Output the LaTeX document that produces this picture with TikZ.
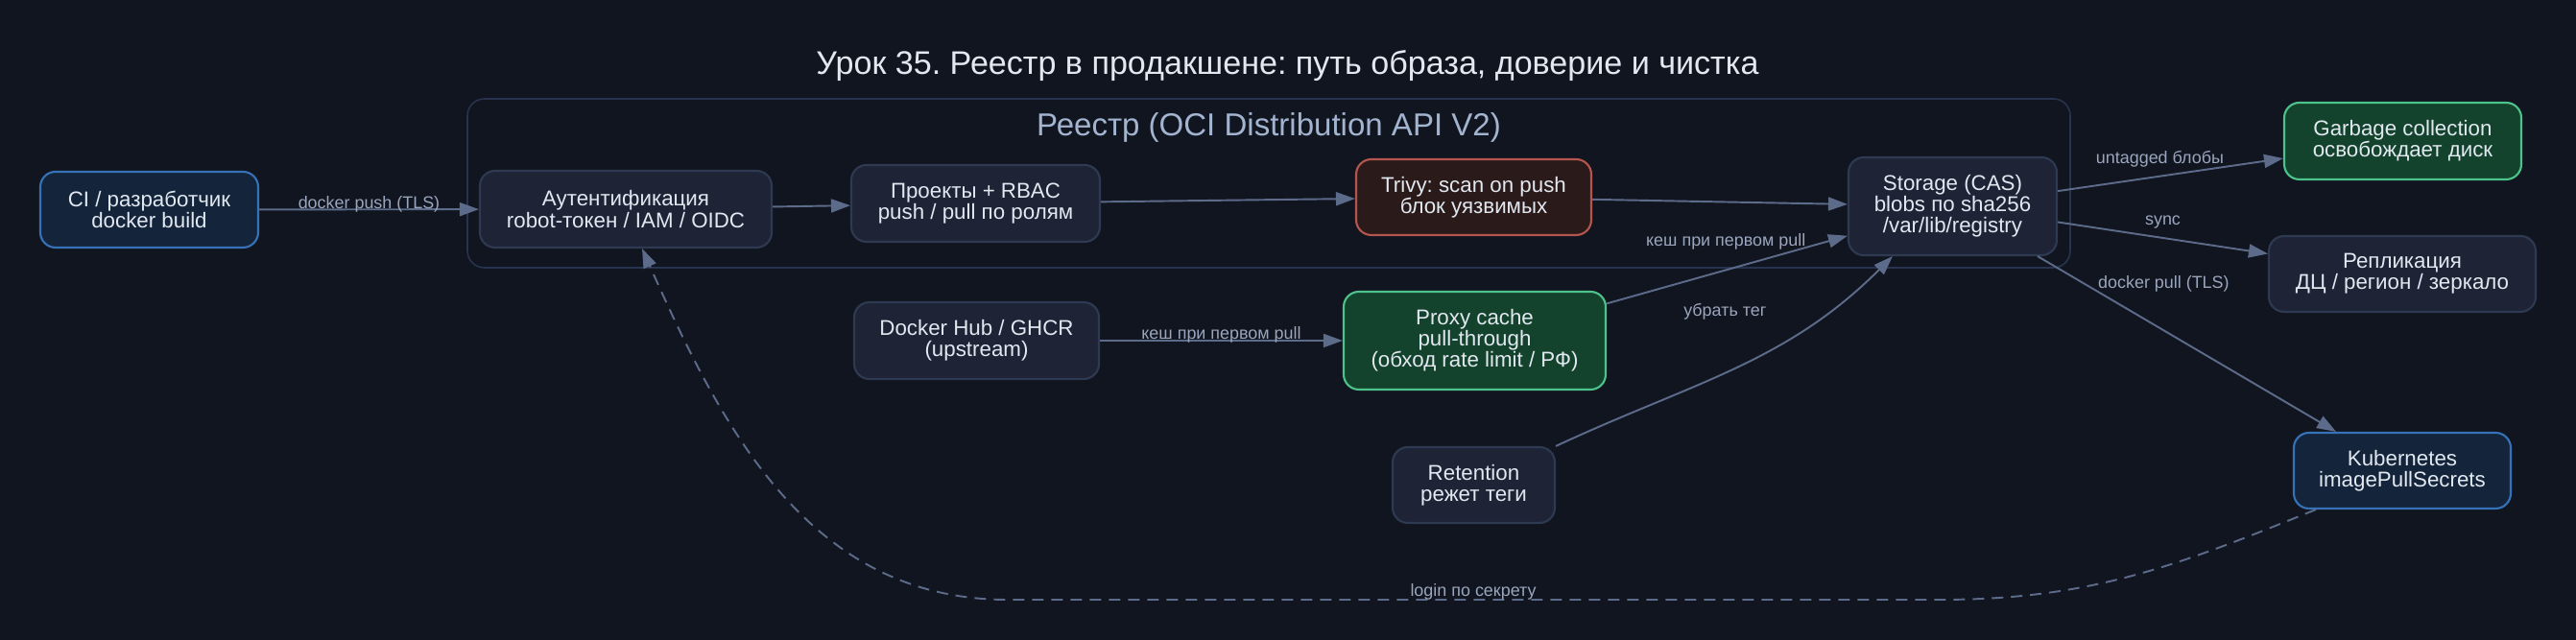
\documentclass[tikz,border=0pt]{standalone}
\usepackage{fontspec}
\setmainfont{Liberation Sans}
\frenchspacing
\usetikzlibrary{arrows.meta, positioning, calc}
\definecolor{cbg}{HTML}{11151F}
\definecolor{cgrey}{HTML}{2E3A52}
\definecolor{cgreyfill}{HTML}{1E2436}
\definecolor{cblue}{HTML}{3572B8}
\definecolor{cbluefill}{HTML}{14253B}
\definecolor{cgreen}{HTML}{4CC38A}
\definecolor{cgreenfill}{HTML}{14432D}
\definecolor{cred}{HTML}{B4564F}
\definecolor{credfill}{HTML}{2B1A1A}
\definecolor{cedge}{HTML}{5C6B8A}
\definecolor{clabel}{HTML}{9AA6BD}
\definecolor{ctext}{HTML}{E2E8F0}
\definecolor{ccluster}{HTML}{283350}
\definecolor{cclusterlabel}{HTML}{A3B4D0}
\tikzset{
  every picture/.style={line width=0.6pt},
  box/.style={draw=#1, fill=#1fill, rounded corners=4.5pt, align=center, text=ctext, font=\fontsize{6.35}{6.3}\selectfont, inner sep=0pt, minimum height=0.79cm},
  box/.default=cgrey,
  arrow/.style={-{Triangle[length=0.2cm, width=0.14cm]}, draw=cedge, line width=0.55pt},
  dasharrow/.style={arrow, dash pattern=on 0.12cm off 0.08cm},
  elabel/.style={font=\fontsize{5.1}{5.1}\selectfont, text=clabel, inner sep=0pt},
  title/.style={font=\fontsize{9.7}{11}\selectfont, text=ctext},
  group/.style={draw=ccluster, line width=0.45pt, rounded corners=5pt},
  grouplabel/.style={font=\fontsize{9.4}{11}\selectfont, text=cclusterlabel},
}

\begin{document}
\begin{tikzpicture}
  \useasboundingbox (0,0) rectangle (26.84,6.67);
  \fill[cbg] (0,0) rectangle (26.84,6.67);
  \node[title, anchor=base] at (13.415,5.89) {Урок 35. Реестр в продакшене: путь образа, доверие и чистка};
  % registry cluster
  \node[group, minimum width=16.70cm, minimum height=1.76cm] (reg) at (13.22,4.76) {};
  \node[grouplabel, anchor=base] at (13.22,5.25) {Реестр (OCI Distribution API V2)};
  % push path
  \node[box=cblue, minimum width=2.27cm] (ci) at (1.555,4.485) {CI / разработчик\\ docker build};
  \node[box, minimum width=3.04cm, minimum height=0.80cm] (auth) at (6.52,4.49) {Аутентификация\\ robot-токен / IAM / OIDC};
  \node[box, minimum width=2.59cm, minimum height=0.80cm] (proj) at (10.165,4.55) {Проекты + RBAC\\ push / pull по ролям};
  \node[box=cred, minimum width=2.45cm] (trivy) at (15.355,4.615) {Trivy: scan on push\\ блок уязвимых};
  \node[box, minimum width=2.17cm, minimum height=1.02cm] (sto) at (20.345,4.52) {Storage (CAS)\\ blobs по sha256\\ /var/lib/registry};
  \draw[arrow] (ci) -- node[elabel, anchor=base, yshift=0.01cm] {docker push (TLS)} (auth);
  \draw[arrow] (auth) -- (proj);
  \draw[arrow] (proj) -- (trivy);
  \draw[arrow] (trivy) -- (sto);
  % proxy cache and retention
  \node[box, minimum width=2.55cm, minimum height=0.80cm] (hub) at (10.175,3.12) {Docker Hub / GHCR\\ (upstream)};
  \node[box=cgreen, minimum width=2.73cm, minimum height=1.02cm] (proxy) at (15.365,3.12) {Proxy cache\\ pull-through\\ (обход rate limit / РФ)};
  \node[box, minimum width=1.69cm] (ret) at (15.355,1.615) {Retention\\ режет теги};
  \draw[arrow] (hub) -- node[elabel, anchor=base, yshift=0.01cm] {кеш при первом pull} (proxy);
  \draw[arrow] (proxy) -- node[elabel, pos=0.83, anchor=base east, yshift=0.01cm] {кеш при первом pull} (sto);
  \draw[arrow] (ret.north east) to[out=25, in=-135] node[elabel, pos=0.5, anchor=base east, xshift=0.33cm, yshift=0.53cm] {убрать тег} ([xshift=0.47cm]sto.south west);
  % consumers of storage
  \node[box=cgreen, minimum width=2.47cm, minimum height=0.80cm] (gc) at (25.035,5.20) {Garbage collection\\ освобождает диск};
  \node[box, minimum width=2.78cm] (repl) at (25.03,3.815) {Репликация\\ ДЦ / регион / зеркало};
  \node[box=cblue, minimum width=2.26cm] (k8s) at (25.03,1.765) {Kubernetes\\ imagePullSecrets};
  \draw[arrow] (sto) -- node[elabel, pos=0.74, anchor=base east, yshift=0.03cm] {untagged блобы} (gc);
  \draw[arrow] (sto) -- node[elabel, anchor=base, yshift=0.13cm] {sync} (repl);
  \draw[arrow] (sto) -- node[elabel, pos=0.2, anchor=base west, yshift=0.035cm] {docker pull (TLS)} (k8s);
  % login back to auth
  \coordinate (lowR) at (20.20,0.42);
  \coordinate (lowL) at (10.50,0.42);
  \draw[dasharrow] ([xshift=0.24cm]k8s.south west) to[out=-158, in=0] (lowR) -- node[elabel, anchor=base, yshift=0.03cm] {login по секрету} (lowL) to[out=180, in=-66] ([xshift=0.17cm]auth.south);
\end{tikzpicture}
\end{document}
